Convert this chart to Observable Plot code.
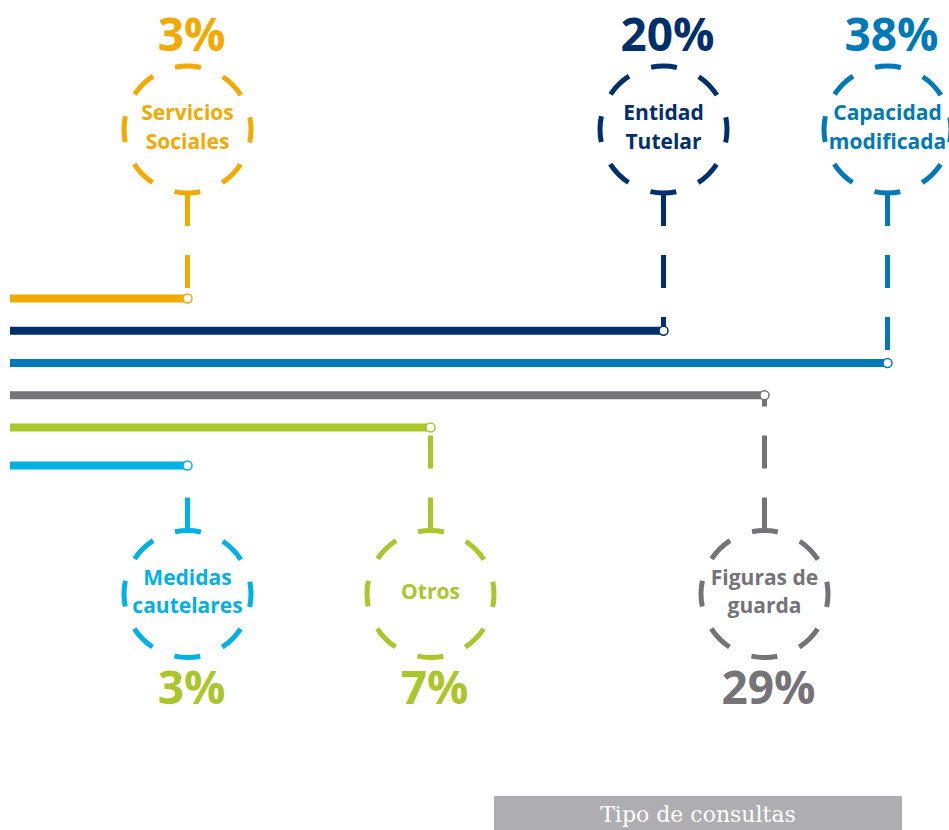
<!DOCTYPE html>
<html><head><meta charset="utf-8">
<script src="https://cdn.jsdelivr.net/npm/d3@7"></script>
<script src="https://cdn.jsdelivr.net/npm/@observablehq/plot@0.6"></script>
<style>
body{margin:0;background:#fff;}
#caption{margin-left:494px;width:408px;height:40px;background:#aeadb2;color:#fff;font-family:"DejaVu Serif";font-size:22px;text-align:center;line-height:38px;}
</style></head><body>
<div id="chart"></div>
<div id="caption">Tipo de consultas</div>
<script>
// ---- data ----
const categories = ["Servicios Sociales", "Entidad Tutelar", "Capacidad modificada", "Figuras de guarda", "Otros", "Medidas cautelares"];
const labelLines = ["Servicios\nSociales", "Entidad\nTutelar", "Capacidad\nmodificada", "Figuras de\nguarda", "Otros", "Medidas\ncautelares"];
const values = [3, 20, 38, 29, 7, 3];
const sides = ["top", "top", "top", "bottom", "bottom", "bottom"];
const colors = ["#f2a900", "#00306b", "#0079b9", "#747378", "#aac62b", "#00b1e6"];
const pctColors = ["#f2a900", "#00306b", "#0079b9", "#747378", "#aac62b", "#aac62b"];

// ---- layout constants (row units; one row = gap between lines) ----
const ROW_PX = 32.25, R_PX = 63.5, R_ROWS = R_PX / ROW_PX;
const TOP_CIRCLE = -5.24, BOT_CIRCLE = 8.985;
const TOP_PCT = -8.12, BOT_PCT = 11.95;

const rows = categories.map((c, i) => ({
  category: c, label: labelLines[i], value: values[i], pct: values[i] + "%",
  side: sides[i], color: colors[i], pctColor: pctColors[i], row: i,
  circleY: sides[i] === "top" ? TOP_CIRCLE : BOT_CIRCLE,
  edgeY: sides[i] === "top" ? TOP_CIRCLE + R_ROWS : BOT_CIRCLE - R_ROWS,
  pctY: sides[i] === "top" ? TOP_PCT : BOT_PCT
}));

const C = 2 * Math.PI * R_PX, seg = C / 8, dash = 26;

const chart = Plot.plot({
  width: 949, height: 796, margin: 0,
  style: {fontFamily: "Open Sans", background: "white"},
  x: {type: "linear", domain: [0, 3, 7, 20, 29, 38], range: [10, 187, 430, 663, 764, 887], axis: null},
  y: {type: "linear", domain: [-298 / ROW_PX, 0, 4, 5, 5 + (796 - 465) / ROW_PX], range: [0, 298, 427, 465, 796], axis: null},
  color: {type: "identity"},
  marks: [
    Plot.ruleY(rows, {y: "row", x1: 0, x2: "value", stroke: "color", strokeWidth: 8}),
    Plot.link(rows, {x1: "value", x2: "value", y1: "edgeY", y2: "row", stroke: "color", strokeWidth: 5, strokeDasharray: "33,29"}),
    Plot.dot(rows, {x: "value", y: "circleY", r: R_PX, fill: "none", stroke: "color", strokeWidth: 5,
      strokeDasharray: `${dash},${seg - dash}`, strokeDashoffset: dash / 2}),
    Plot.dot(rows, {x: "value", y: "row", r: 4.5, fill: "white", stroke: "color", strokeWidth: 1.5}),
    Plot.text(rows, {x: "value", y: "circleY", text: "label", fill: "color", fontSize: 21, fontWeight: 700, lineHeight: 1.35, dy: -4}),
    Plot.text(rows, {x: "value", y: "pctY", text: "pct", fill: "pctColor", fontSize: 46, fontWeight: 700, dx: 4})
  ]
});
document.getElementById("chart").appendChild(chart);
</script>
</body></html>
